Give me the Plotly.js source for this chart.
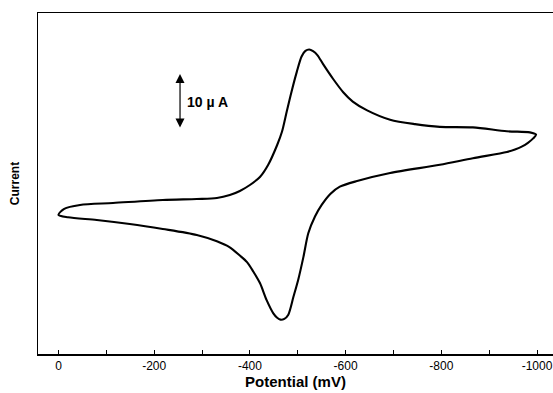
<!DOCTYPE html>
<html>
<head>
<meta charset="utf-8">
<script src="https://cdn.plot.ly/plotly-3.0.1.min.js"></script>
<style>html,body{margin:0;padding:0;background:#fff;}#chart{width:553px;height:393px;}</style>
</head>
<body>
<div id="chart"></div>
<script>
// Cyclic voltammogram: potential (mV) and current (µA), traced as one closed loop
// forward scan (0 -> -1000 mV)
const forwardPotential = [0, -12, -45, -114, -218, -289, -331, -358, -379, -400, -421, -438, -457, -467, -477, -487, -498, -508, -516, -524, -532, -541, -553, -574, -595, -615, -645, -693, -745, -797, -866, -937, -985, -998];
const forwardCurrent   = [-2.7, -1.6, -0.9, -0.55, 0, 0.18, 0.36, 0.9, 1.64, 2.73, 4.18, 6.36, 10.0, 12.4, 16.1, 19.7, 23.3, 26.1, 27.1, 27.35, 27.05, 26.35, 24.7, 22.0, 19.6, 17.9, 16.3, 14.6, 13.8, 13.3, 13.2, 12.5, 12.3, 11.9];
// reverse scan (-1000 -> 0 mV)
const reversePotential = [-992, -981, -969, -954, -937, -866, -797, -693, -624, -588, -568, -550, -536, -522, -512, -501, -491, -480, -472, -464, -457, -449, -435, -421, -407, -394, -379, -358, -331, -289, -218, -149, -80, -20, 0];
const reverseCurrent   = [11.2, 10.4, 9.75, 9.2, 8.73, 7.6, 6.4, 4.9, 3.45, 2.42, 1.1, -0.9, -3.0, -6.05, -10.3, -14.5, -17.6, -20.9, -21.6, -21.75, -21.4, -20.6, -18.2, -15.1, -13.0, -11.3, -10.1, -8.6, -7.5, -6.36, -5.27, -4.36, -3.64, -3.15, -2.7];

const xTickValues = [0, -200, -400, -600, -800, -1000];
const xTickLabels = ["0", "-200", "-400", "-600", "-800", "-1000"];

// 10 µA scale bar
const scaleBarPotential = -254;
const scaleBarTop = 22.9;
const scaleBarLength = 10;
const scaleBarLabel = "10 \u00b5 A";

const potential = forwardPotential.concat(reversePotential);
const current = forwardCurrent.concat(reverseCurrent);

const font = "Liberation Sans, Arial, sans-serif";

const trace = {
  x: potential,
  y: current,
  type: "scatter",
  mode: "lines",
  line: {color: "#000", width: 2.1, shape: "spline", smoothing: 0.8},
  hoverinfo: "skip"
};

const layout = {
  width: 553,
  height: 393,
  margin: {l: 38, r: 0, t: 13, b: 39},
  paper_bgcolor: "#fff",
  plot_bgcolor: "#fff",
  showlegend: false,
  font: {family: font, color: "#000", size: 12},
  xaxis: {
    range: [42.8, -1033.4],
    tickvals: xTickValues,
    ticktext: xTickLabels,
    ticks: "inside",
    ticklen: 4,
    tickwidth: 1,
    tickcolor: "#000",
    minor: {dtick: 100, tick0: 0, ticks: "inside", ticklen: 4, tickcolor: "#000"},
    showline: true,
    linecolor: "#000",
    linewidth: 1.5,
    mirror: true,
    showgrid: false,
    zeroline: false,
    tickfont: {family: font, size: 12, color: "#000"},
    title: {text: "Potential (mV)", font: {family: font, size: 15, color: "#000", weight: "bold"}, standoff: 3}
  },
  yaxis: {
    range: [-28.0, 34.0],
    showline: true,
    linecolor: "#000",
    linewidth: 1,
    showgrid: false,
    zeroline: false,
    showticklabels: false,
    ticks: "",
    title: {text: "Current", font: {family: font, size: 12, color: "#000", weight: "bold"}, standoff: 14}
  },
  annotations: [
    {
      x: scaleBarPotential, y: scaleBarTop,
      ax: scaleBarPotential, ay: scaleBarTop - scaleBarLength,
      xref: "x", yref: "y", axref: "x", ayref: "y",
      text: "", showarrow: true, arrowside: "end+start",
      arrowhead: 2, arrowsize: 1.5, arrowwidth: 1.2, arrowcolor: "#000"
    },
    {
      x: scaleBarPotential, y: scaleBarTop - scaleBarLength / 2,
      xref: "x", yref: "y", xanchor: "left", yanchor: "middle", xshift: 5,
      text: "<b>" + scaleBarLabel + "</b>", showarrow: false,
      font: {family: font, size: 14, color: "#000"}
    }
  ]
};

Plotly.newPlot("chart", [trace], layout, {staticPlot: true, displayModeBar: false});
</script>
</body>
</html>
